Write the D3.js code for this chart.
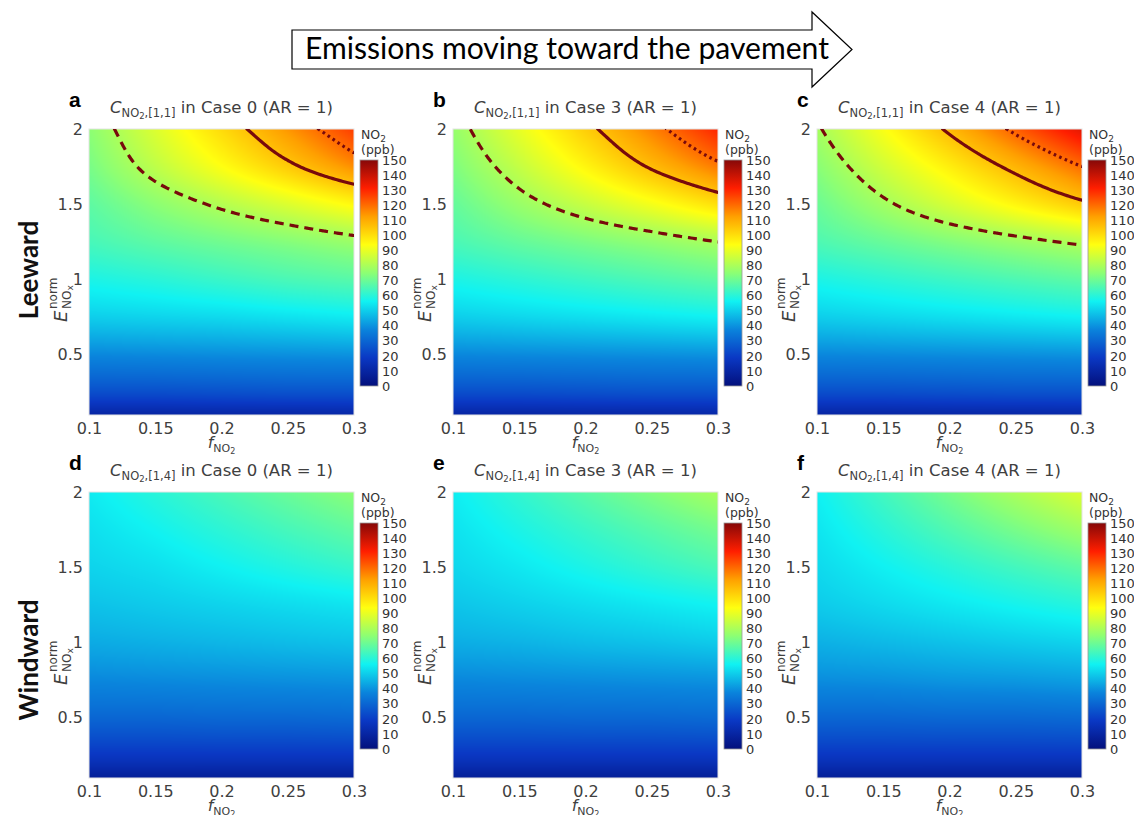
<!DOCTYPE html>
<html>
<head>
<meta charset="utf-8">
<script src="https://cdn.jsdelivr.net/npm/d3@7"></script>
<style>
  body { margin: 0; background: #fff; }
  text { font-family: "DejaVu Sans", sans-serif; }
</style>
</head>
<body>
<div id="chart"></div>
<script>
// grid axes of the maps
const fNO2 = [0.1, 0.15, 0.2, 0.25, 0.3];
const eNorm = [0.1, 0.25, 0.5, 0.75, 1.0, 1.25, 1.5, 1.75, 2.0];

const xTicks = [0.1, 0.15, 0.2, 0.25, 0.3];
const yTicks = [0.5, 1, 1.5, 2];
const cbTicks = [0, 10, 20, 30, 40, 50, 60, 70, 80, 90, 100, 110, 120, 130, 140, 150];

// contour levels (ppb) drawn on the leeward maps
const contourLevels = [80, 106, 120];

// NO2 (ppb), one row per eNorm value (bottom to top), one column per fNO2 value
const leeCase0 = [
  [10, 10, 10.5, 10.5, 11],
  [24, 24, 24.5, 25, 25],
  [38, 38.5, 39, 39.5, 40],
  [50, 51, 52, 53.5, 55],
  [58, 60, 62.5, 65, 67],
  [64.5, 68, 71, 74, 77.5],
  [68, 75, 81.5, 88, 95],
  [72, 83, 93.5, 104, 115],
  [75, 88, 101, 114, 127]
];
const leeCase3 = [
  [10, 10, 10.5, 10.5, 11],
  [24, 24, 24.5, 25, 25],
  [38, 38.5, 39, 39.5, 40],
  [50, 51.5, 53, 54.5, 56],
  [58, 60.5, 63, 65.5, 68],
  [65, 69, 72.5, 76, 80],
  [69, 77, 84.5, 92, 100],
  [73, 84, 95.5, 107, 118],
  [76.5, 90, 103.5, 117, 130.5]
];
const leeCase4 = [
  [10, 10, 10.5, 10.5, 11],
  [24, 24, 24.5, 25, 25],
  [38, 38.5, 39, 39.5, 40],
  [50, 51.5, 53, 54.5, 56],
  [58, 60.5, 63, 65.5, 68],
  [65.5, 69.5, 73.5, 77.5, 81.5],
  [70, 78.5, 87, 95.5, 104],
  [74.5, 86, 97, 108.5, 120],
  [79, 93, 107.5, 122, 136]
];
const windCase0 = [
  [7, 7, 7, 7, 7],
  [18, 18, 18, 18, 18],
  [30, 30, 30.5, 30.5, 31],
  [38, 38.5, 39, 39.5, 40],
  [44, 45, 46, 47, 48],
  [48, 49.5, 51, 52.5, 54],
  [51, 53, 56, 59, 62],
  [53, 56.5, 60.5, 64.5, 68.5],
  [55, 60, 65, 70, 75]
];
const windCase3 = [
  [7, 7, 7, 7, 7],
  [18, 18, 18, 18, 18],
  [30, 30, 30.5, 30.5, 31],
  [38, 38.5, 39, 39.5, 40],
  [44.5, 45.5, 47, 48, 49.5],
  [48.5, 50.5, 52.5, 54.5, 56.5],
  [51.5, 54.5, 58, 61.5, 65],
  [53.5, 58, 62.5, 67, 71.5],
  [55.5, 61.5, 67.5, 73.5, 79.5]
];
const windCase4 = [
  [7, 7, 7, 7, 7],
  [18, 18, 18, 18, 18],
  [30, 30, 30.5, 30.5, 31],
  [39, 39.5, 40.5, 41, 42],
  [45, 46.5, 48, 49.5, 51],
  [49.5, 52, 54.5, 57, 59.5],
  [52, 56, 60, 64, 68],
  [54, 60, 66, 72, 78],
  [56, 64, 72, 80, 88]
];

const panels = [
  { letter: "a", cell: "[1,1]", caseNo: 0, grid: leeCase0, row: 0, col: 0 },
  { letter: "b", cell: "[1,1]", caseNo: 3, grid: leeCase3, row: 0, col: 1 },
  { letter: "c", cell: "[1,1]", caseNo: 4, grid: leeCase4, row: 0, col: 2 },
  { letter: "d", cell: "[1,4]", caseNo: 0, grid: windCase0, row: 1, col: 0 },
  { letter: "e", cell: "[1,4]", caseNo: 3, grid: windCase3, row: 1, col: 1 },
  { letter: "f", cell: "[1,4]", caseNo: 4, grid: windCase4, row: 1, col: 2 }
];

const W = 1134, H = 815;
const colLeft = [89, 453, 817];
const rowTop = [129, 492];
const pw = 265, ph = 286;
const grey = "#404040";

const svg = d3.select("#chart").append("svg")
  .attr("width", W).attr("height", H)
  .attr("viewBox", [0, 0, W, H]);

// jet-like map, toned the way the figure prints it
const jet = d3.scaleLinear()
  .domain([0, 18.75, 37.5, 56.25, 75, 93.75, 112.5, 131.25, 150])
  .range(["#03107c", "#0a38c4", "#0a84dc", "#10f2f2", "#8cff74", "#ffff10", "#ffa000", "#ff1e00", "#860808"])
  .clamp(true);

// cubic along E (per f column), linear along f
function tangents(grid) {
  const n = eNorm.length;
  return fNO2.map((_, i) => eNorm.map((e, j) => {
    const a = Math.max(0, j - 1), b = Math.min(n - 1, j + 1);
    return (grid[b][i] - grid[a][i]) / (eNorm[b] - eNorm[a]);
  }));
}
function colValue(grid, tan, i, e) {
  const j = Math.min(d3.bisectRight(eNorm, e) - 1, eNorm.length - 2);
  const h = eNorm[j + 1] - eNorm[j];
  const t = (e - eNorm[j]) / h;
  const t2 = t * t, t3 = t2 * t;
  return (2 * t3 - 3 * t2 + 1) * grid[j][i] + (t3 - 2 * t2 + t) * h * tan[i][j]
    + (-2 * t3 + 3 * t2) * grid[j + 1][i] + (t3 - t2) * h * tan[i][j + 1];
}
function valueAt(grid, tan, f, e) {
  f = Math.max(fNO2[0], Math.min(fNO2[fNO2.length - 1], f));
  e = Math.max(eNorm[0], Math.min(eNorm[eNorm.length - 1], e));
  const i = Math.min(d3.bisectRight(fNO2, f) - 1, fNO2.length - 2);
  const tx = (f - fNO2[i]) / (fNO2[i + 1] - fNO2[i]);
  return colValue(grid, tan, i, e) * (1 - tx) + colValue(grid, tan, i + 1, e) * tx;
}

const defs = svg.append("defs");

// colorbar gradient
const grad = defs.append("linearGradient")
  .attr("id", "jetgrad")
  .attr("x1", "0%").attr("x2", "0%").attr("y1", "100%").attr("y2", "0%");
grad.selectAll("stop")
  .data(jet.domain())
  .enter()
  .append("stop")
  .attr("offset", d => (100 * d / 150) + "%")
  .attr("stop-color", d => jet(d));

// arrow at the top
svg.append("path")
  .attr("d", "M292,30 H812 V12 L852,49.5 L812,87 V69 H292 Z")
  .attr("fill", "#fff")
  .attr("stroke", "#000")
  .attr("stroke-width", 1.2);
const arrowText = svg.append("text")
  .attr("x", 567).attr("y", 59)
  .attr("text-anchor", "middle")
  .style("font-family", "Lato, sans-serif")
  .style("font-size", "28px")
  .attr("fill", "#000")
  .text("Emissions moving toward the pavement");
{
  const len = arrowText.node().getComputedTextLength();
  arrowText.style("font-size", (28 * 524 / len) + "px");
}

// row labels
[["Leeward", 270], ["Windward", 660]].forEach(([t, cy]) => {
  svg.append("text")
    .attr("transform", `translate(38,${cy}) rotate(-90)`)
    .attr("text-anchor", "middle")
    .style("font-family", "Lato, sans-serif")
    .style("font-size", "26px")
    .style("font-weight", "bold")
    .attr("fill", "#111")
    .text(t);
});

panels.forEach((p, k) => {
  const x0 = colLeft[p.col], y0 = rowTop[p.row];
  const g = svg.append("g").attr("transform", `translate(${x0},${y0})`);
  const tan = tangents(p.grid);

  const x = d3.scaleLinear().domain([0.1, 0.3]).range([0, pw]);
  const y = d3.scaleLinear().domain([0.1, 2]).range([ph, 0]);

  // heat map raster
  const canvas = document.createElement("canvas");
  canvas.width = pw; canvas.height = ph;
  const ctx = canvas.getContext("2d");
  const img = ctx.createImageData(pw, ph);
  for (let py = 0; py < ph; py++) {
    const e = y.invert(py + 0.5);
    for (let px = 0; px < pw; px++) {
      const c = d3.rgb(jet(valueAt(p.grid, tan, x.invert(px + 0.5), e)));
      const o = 4 * (py * pw + px);
      img.data[o] = c.r; img.data[o + 1] = c.g; img.data[o + 2] = c.b; img.data[o + 3] = 255;
    }
  }
  ctx.putImageData(img, 0, 0);
  g.append("image")
    .attr("width", pw).attr("height", ph)
    .attr("preserveAspectRatio", "none")
    .attr("href", canvas.toDataURL());

  g.append("rect")
    .attr("width", pw).attr("height", ph)
    .attr("fill", "none").attr("stroke", "#e4e4e4").attr("stroke-width", 1);

  // contours on the leeward maps
  if (p.row === 0) {
    const clipId = "clip" + k;
    defs.append("clipPath").attr("id", clipId)
      .append("rect").attr("width", pw).attr("height", ph);
    const pad = 4, step = 2;
    const nx = Math.ceil((pw + 2 * pad) / step) + 1;
    const ny = Math.ceil((ph + 2 * pad) / step) + 1;
    const values = new Array(nx * ny);
    for (let j = 0; j < ny; j++) {
      for (let i = 0; i < nx; i++) {
        values[j * nx + i] = valueAt(p.grid, tan, x.invert(-pad + step * i), y.invert(-pad + step * j));
      }
    }
    const toPx = d3.geoTransform({
      point: function (gx, gy) {
        this.stream.point(-pad + step * (gx - 0.5), -pad + step * (gy - 0.5));
      }
    });
    const path = d3.geoPath(toPx);
    const dashes = ["9,6", null, "2.6,3.4"];
    const cont = d3.contours().size([nx, ny]).thresholds(contourLevels)(values);
    g.append("g").attr("clip-path", `url(#${clipId})`)
      .selectAll("path")
      .data(cont)
      .enter()
      .append("path")
      .attr("d", path)
      .attr("fill", "none")
      .attr("stroke", "#780a0c")
      .attr("stroke-width", 3.2)
      .attr("stroke-dasharray", (d, i) => dashes[i]);
  }

  // axes
  const xAxis = g.append("g")
    .attr("transform", `translate(0,${ph})`)
    .call(d3.axisBottom(x).tickValues(xTicks).tickSize(0).tickPadding(8).tickFormat(d => String(d)));
  const yAxis = g.append("g")
    .call(d3.axisLeft(y).tickValues(yTicks).tickSize(0).tickPadding(6).tickFormat(d => String(d)));
  [xAxis, yAxis].forEach(a => {
    a.select(".domain").remove();
    a.selectAll("text")
      .style("font-family", "DejaVu Sans, sans-serif")
      .style("font-size", "16px")
      .attr("fill", grey);
  });

  // x label
  const xl = g.append("text")
    .attr("x", pw / 2).attr("y", ph + 33)
    .attr("text-anchor", "middle")
    .attr("fill", grey)
    .style("font-size", "16px");
  xl.append("tspan").style("font-style", "italic").text("f");
  xl.append("tspan").attr("dy", 4).style("font-size", "11px").text("NO");
  xl.append("tspan").attr("dy", 2).style("font-size", "8px").text("2");

  // y label
  const yl = g.append("g").attr("transform", `translate(-22,${ph / 2 + 26}) rotate(-90)`);
  yl.append("text")
    .attr("x", -24).attr("y", 0)
    .attr("fill", grey)
    .style("font-size", "18px")
    .style("font-style", "italic")
    .text("E");
  yl.append("text")
    .attr("x", -11).attr("y", -10)
    .attr("fill", grey)
    .style("font-size", "12px")
    .text("norm");
  const ysub = yl.append("text")
    .attr("x", -11).attr("y", 4)
    .attr("fill", grey)
    .style("font-size", "12px");
  ysub.append("tspan").text("NO");
  ysub.append("tspan").attr("dy", 2).style("font-size", "9px").text("x");

  // title
  const t = g.append("text")
    .attr("x", 21).attr("y", -16)
    .attr("fill", grey)
    .style("font-size", "16.5px");
  t.append("tspan").style("font-style", "italic").text("C");
  t.append("tspan").attr("dy", 4).style("font-size", "11.5px").text("NO");
  t.append("tspan").attr("dy", 2).style("font-size", "8.5px").text("2");
  t.append("tspan").attr("dy", -2).style("font-size", "11.5px").text("," + p.cell);
  t.append("tspan").attr("dy", -4).text("\u00A0in Case " + p.caseNo + " (AR = 1)");

  // panel letter
  g.append("text")
    .attr("x", -20).attr("y", -22)
    .style("font-family", "Liberation Sans, Arial, sans-serif")
    .style("font-size", "21px")
    .style("font-weight", "bold")
    .attr("fill", "#000")
    .text(p.letter);

  // colorbar
  const cbx = pw + 6, cbw = 18;
  const cb = d3.scaleLinear().domain([0, 150]).range([ph - 29, 31]);
  g.append("rect")
    .attr("x", cbx).attr("y", cb(150))
    .attr("width", cbw).attr("height", cb(0) - cb(150))
    .attr("fill", "url(#jetgrad)")
    .attr("stroke", "#999").attr("stroke-width", 0.8);
  const cbAxis = g.append("g")
    .attr("transform", `translate(${cbx + cbw},0)`)
    .call(d3.axisRight(cb).tickValues(cbTicks).tickSize(0).tickPadding(4));
  cbAxis.select(".domain").remove();
  cbAxis.selectAll("text")
    .style("font-family", "DejaVu Sans, sans-serif")
    .style("font-size", "13px")
    .attr("fill", "#333");
  const cbt = g.append("text")
    .attr("x", cbx + 1).attr("y", 10)
    .attr("fill", "#333")
    .style("font-size", "12.5px");
  cbt.append("tspan").text("NO");
  cbt.append("tspan").attr("dy", 3).style("font-size", "9px").text("2");
  g.append("text")
    .attr("x", cbx + 1).attr("y", 25)
    .attr("fill", "#333")
    .style("font-size", "12.5px")
    .text("(ppb)");
});
</script>
</body>
</html>
